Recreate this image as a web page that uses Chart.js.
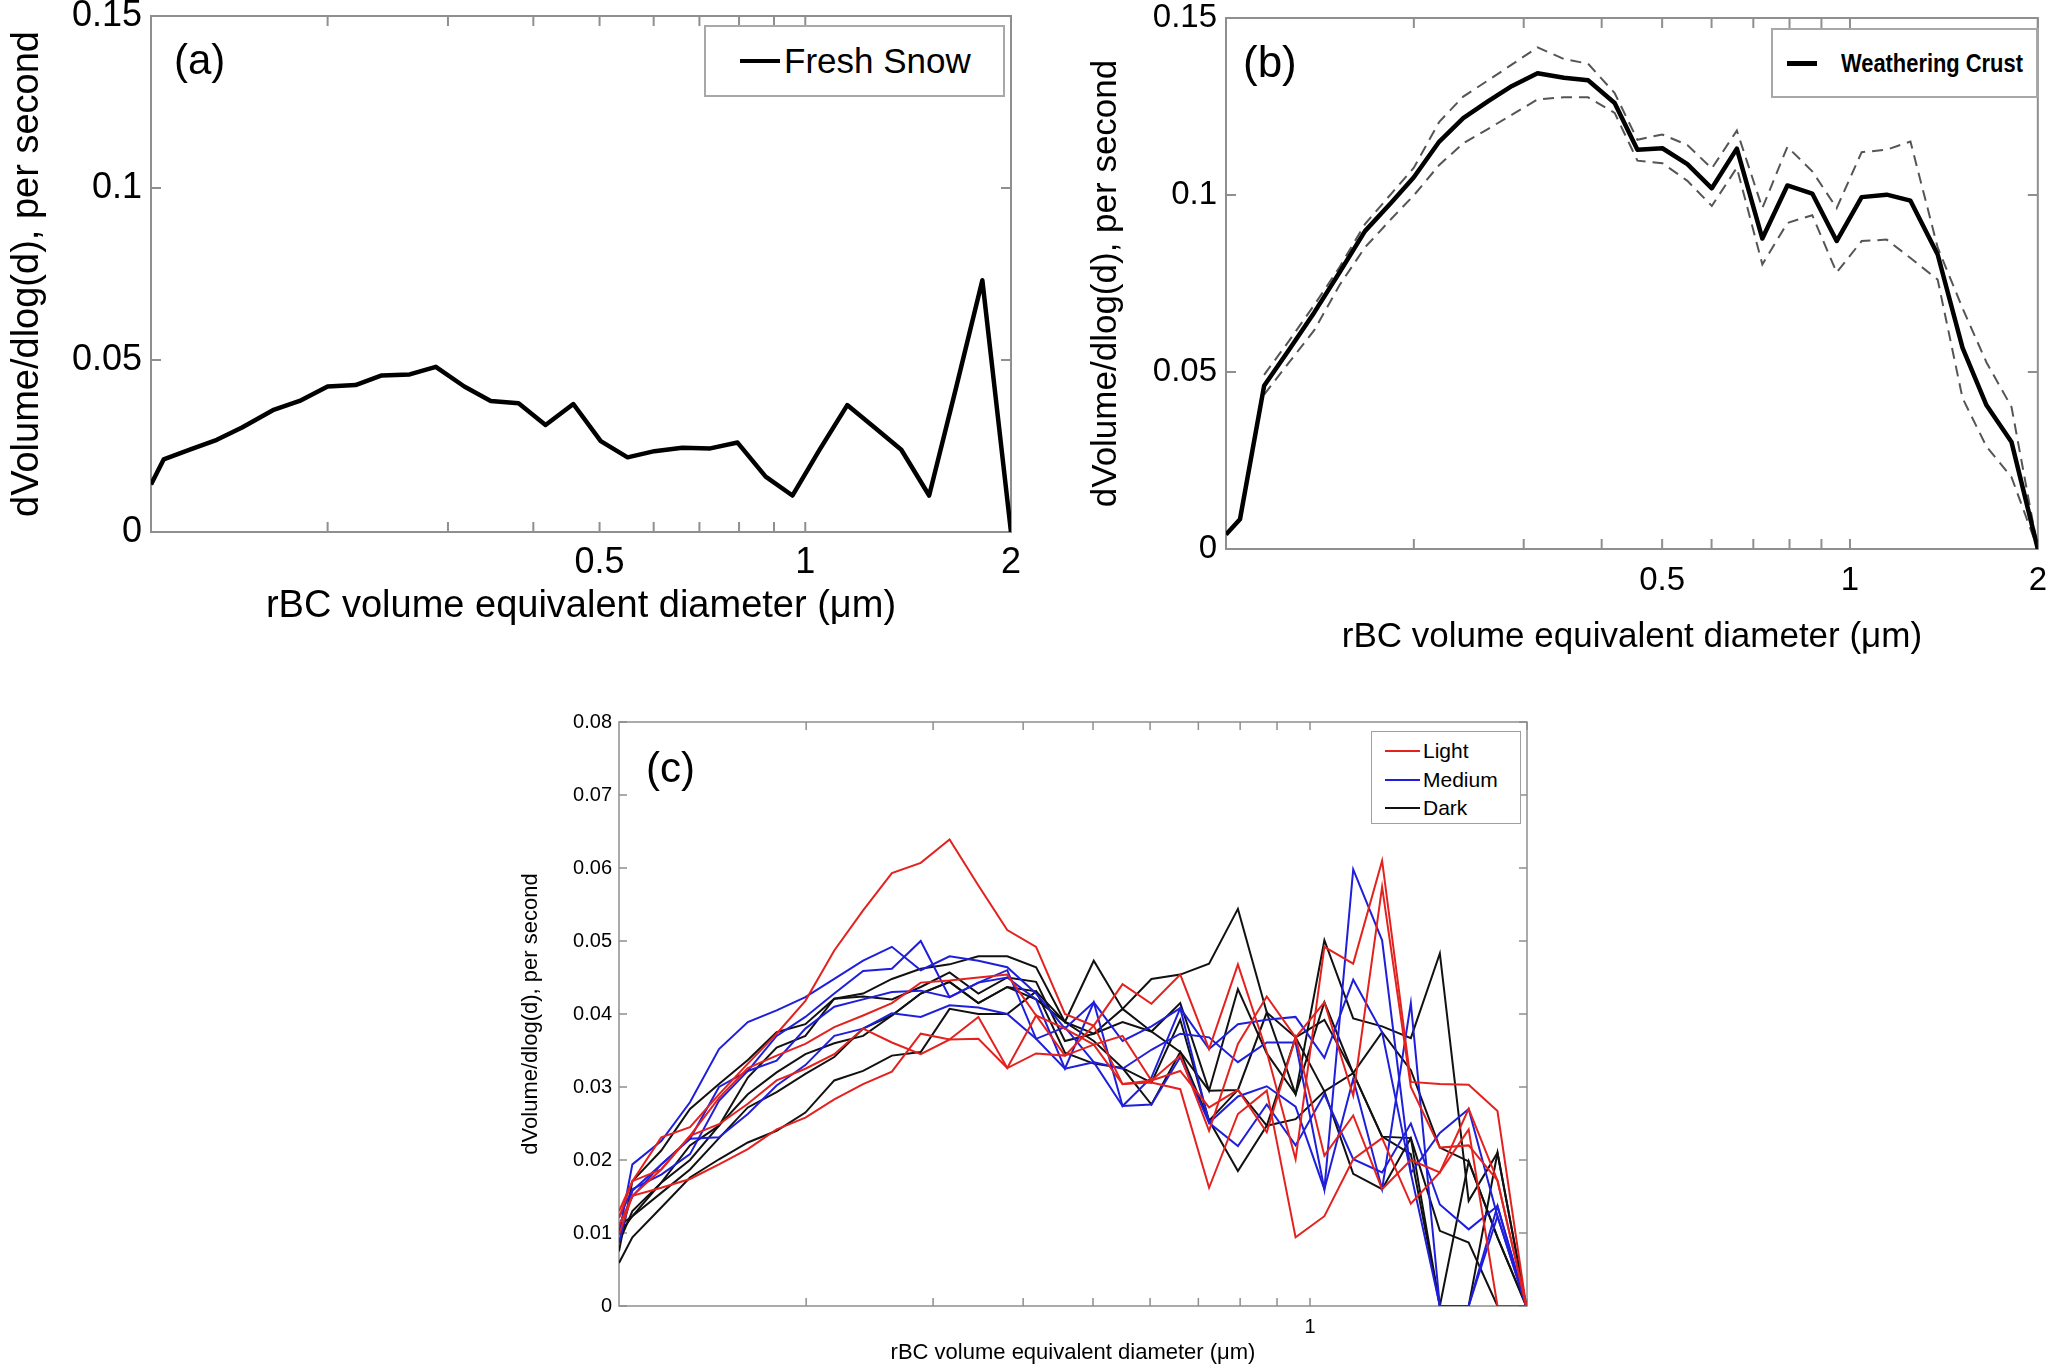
<!DOCTYPE html>
<html>
<head>
<meta charset="utf-8">
<title>rBC size distributions</title>
<script src="https://cdn.jsdelivr.net/npm/chart.js@4.4.1/dist/chart.umd.min.js"></script>
<style>
    html, body {
        margin: 0;
        padding: 0;
        background: #fff;
        width: 2059px;
        height: 1364px;
        overflow: hidden;
        position: relative;
        font-family: 'Liberation Sans', Arial, sans-serif;
        color: #000;
    }
    canvas { position: absolute; }
    .tag { position: absolute; line-height: 1; z-index: 2; }
    .legend { position: absolute; box-sizing: border-box; background: #fff; z-index: 2; }
    .legend .row { position: absolute; display: flex; align-items: center; white-space: nowrap; }
    .legend .swatch { display: inline-block; }
</style>
</head>
<body>
<canvas id="chartA"></canvas>
<canvas id="chartB"></canvas>
<canvas id="chartC"></canvas>

<div class="tag" style="left:174px; top:39px; font-size:42px;">(a)</div>
<div class="tag" style="left:1243px; top:40px; font-size:44px;">(b)</div>
<div class="tag" style="left:646px; top:747px; font-size:42px;">(c)</div>

<div class="legend" style="left:704px; top:25px; width:301px; height:72px; border:2px solid #a8a8a8;">
    <div class="row" style="left:34px; top:0; height:68px;">
        <span class="swatch" style="width:40px; height:4px; background:#000;"></span>
        <span style="font-size:35px; margin-left:4px;">Fresh Snow</span>
    </div>
</div>
<div class="legend" style="left:1771px; top:28px; width:267px; height:70px; border:2px solid #a8a8a8;">
    <div class="row" style="left:14px; top:0; height:66px;">
        <span class="swatch" style="width:30px; height:5px; background:#000;"></span>
        <span style="font-size:25px; font-weight:bold; margin-left:24px; display:inline-block; transform:scaleX(0.875); transform-origin:left center;">Weathering Crust</span>
    </div>
</div>
<div class="legend" id="legendC" style="left:1371px; top:731px; width:150px; height:93px; border:1.5px solid #a0a0a0;"></div>

<script>
// panel (a): fresh snow
const diamA = [0.1103, 0.1151, 0.126, 0.1377, 0.1499, 0.1663, 0.182, 0.2, 0.2197, 0.24, 0.2637,
    0.288, 0.317, 0.3465, 0.3806, 0.4168, 0.4577, 0.502, 0.5495, 0.6015, 0.6607, 0.7261, 0.796,
    0.875, 0.9576, 1.048, 1.152, 1.263, 1.382, 1.518, 1.662, 1.816, 2.0];
const freshSnow = [0.0138, 0.0211, 0.0240, 0.0268, 0.0304, 0.0354, 0.0381, 0.0423, 0.0427, 0.0455, 0.0458,
    0.0480, 0.0423, 0.0381, 0.0374, 0.0311, 0.0372, 0.0264, 0.0217, 0.0235, 0.0245, 0.0243, 0.0260,
    0.0161, 0.0106, 0.0237, 0.0369, 0.0304, 0.0239, 0.0106, 0.0419, 0.0732, 0];

// panel (b): weathering crust, mean and spread
const diamB = [0.1, 0.1053, 0.1151, 0.1262, 0.1386, 0.152, 0.167, 0.1841, 0.2, 0.2197, 0.24, 0.2632,
    0.2874, 0.3157, 0.348, 0.3804, 0.4196, 0.4564, 0.5004, 0.5488, 0.6006, 0.6587, 0.7237, 0.7937,
    0.870, 0.952, 1.044, 1.145, 1.25, 1.382, 1.515, 1.655, 1.815, 2.0];
const crustMean = [0.0041, 0.0084, 0.0461, 0.0563, 0.0669, 0.0781, 0.0898, 0.0979, 0.1050, 0.1151, 0.1217,
    0.1265, 0.1308, 0.1344, 0.1331, 0.1324, 0.1260, 0.1128, 0.1132, 0.1087, 0.1019, 0.1131, 0.0877,
    0.1027, 0.1004, 0.0870, 0.0994, 0.1001, 0.0984, 0.0832, 0.0568, 0.0406, 0.0302, 0];
const crustUpper = [null, null, 0.0492, 0.0588, 0.0690, 0.0796, 0.0918, 0.1004, 0.1077, 0.1207, 0.1278,
    0.1324, 0.1369, 0.1417, 0.1384, 0.1371, 0.1288, 0.1156, 0.1171, 0.1141, 0.1075, 0.1182, 0.0963,
    0.1136, 0.1067, 0.0963, 0.1121, 0.1128, 0.1151, 0.0852, 0.0680, 0.0527, 0.0401, 0];
const crustLower = [null, null, 0.0436, 0.0527, 0.0619, 0.0745, 0.0852, 0.0933, 0.0999, 0.1085, 0.1146,
    0.1187, 0.1227, 0.1270, 0.1276, 0.1276, 0.1232, 0.1097, 0.1090, 0.1040, 0.0969, 0.1077, 0.0804,
    0.0921, 0.0943, 0.0781, 0.0870, 0.0874, 0.0822, 0.0761, 0.0426, 0.0289, 0.0203, 0];

// panel (c): individual samples by darkness class
const diamC = [0.11, 0.1148, 0.1259, 0.138, 0.1514, 0.166, 0.182, 0.1995, 0.2188, 0.2399, 0.263,
    0.2884, 0.3162, 0.3467, 0.3802, 0.4169, 0.4571, 0.5012, 0.5495, 0.6026, 0.6607, 0.7244, 0.7943,
    0.871, 0.955, 1.047, 1.148, 1.259, 1.38, 1.514, 1.66, 1.82, 1.995];
const light1 = [0.0130, 0.0171, 0.0231, 0.0245, 0.0290, 0.0332, 0.0373, 0.0418, 0.0487, 0.0542, 0.0593,
    0.0607, 0.0639, 0.0576, 0.0515, 0.0492, 0.0400, 0.0384, 0.0441, 0.0414, 0.0454, 0.0352, 0.0468,
    0.0348, 0.0201, 0.0492, 0.0469, 0.0610, 0.0307, 0.0304, 0.0303, 0.0267, 0];
const light2 = [0.0121, 0.0171, 0.0187, 0.0233, 0.0285, 0.0326, 0.0343, 0.0359, 0.0382, 0.0398, 0.0415,
    0.0443, 0.0446, 0.0450, 0.0454, 0.0398, 0.0380, 0.0358, 0.0370, 0.0309, 0.0343, 0.0240, 0.0359,
    0.0424, 0.0368, 0.0416, 0.0288, 0.0574, 0.0300, 0.0217, 0.0220, 0.0172, 0];
const light3 = [0.0110, 0.0151, 0.0187, 0.0233, 0.0249, 0.0277, 0.0309, 0.0325, 0.0345, 0.0380, 0.0361,
    0.0345, 0.0365, 0.0366, 0.0326, 0.0346, 0.0343, 0.0384, 0.0304, 0.0306, 0.0297, 0.0162, 0.0263,
    0.0295, 0.0094, 0.0123, 0.0201, 0.0230, 0.0140, 0.0183, 0.0242, 0, 0];
const light4 = [0.0098, 0.0151, 0.0162, 0.0174, 0.0194, 0.0215, 0.0242, 0.0258, 0.0283, 0.0304, 0.0321,
    0.0373, 0.0365, 0.0396, 0.0326, 0.0398, 0.0343, 0.0358, 0.0304, 0.0309, 0.0322, 0.0272, 0.0296,
    0.0238, 0.0368, 0.0206, 0.0261, 0.0160, 0.0200, 0.0183, 0.0270, 0.0172, 0];
const medium1 = [0.0098, 0.0194, 0.0226, 0.0279, 0.0352, 0.0389, 0.0405, 0.0423, 0.0448, 0.0473, 0.0492,
    0.0460, 0.0479, 0.0473, 0.0464, 0.0428, 0.0380, 0.0416, 0.0363, 0.0383, 0.0408, 0.0352, 0.0386,
    0.0392, 0.0396, 0.0340, 0.0447, 0.0375, 0.0182, 0.0237, 0.0270, 0.0123, 0];
const medium2 = [0.0121, 0.0160, 0.0180, 0.0208, 0.0281, 0.0322, 0.0370, 0.0396, 0.0428, 0.0459, 0.0462,
    0.0500, 0.0423, 0.0443, 0.0460, 0.0366, 0.0382, 0.0334, 0.0325, 0.0351, 0.0373, 0.0368, 0.0334,
    0.0361, 0.0361, 0.0160, 0.0598, 0.0501, 0.0182, 0, 0, 0.0123, 0];
const medium3 = [0.0087, 0.0158, 0.0194, 0.0229, 0.0231, 0.0263, 0.0302, 0.0330, 0.0370, 0.0380, 0.0401,
    0.0396, 0.0412, 0.0409, 0.0400, 0.0366, 0.0325, 0.0334, 0.0274, 0.0276, 0.0341, 0.0251, 0.0219,
    0.0276, 0.0220, 0.0290, 0.0201, 0.0183, 0.0250, 0.0139, 0.0105, 0.0137, 0];
const medium4 = [0.0110, 0.0150, 0.0194, 0.0229, 0.0300, 0.0322, 0.0336, 0.0380, 0.0410, 0.0420, 0.0430,
    0.0432, 0.0423, 0.0443, 0.0450, 0.0420, 0.0325, 0.0416, 0.0274, 0.0313, 0.0408, 0.0251, 0.0287,
    0.0301, 0.0273, 0.0160, 0.0311, 0.0160, 0.0415, 0, 0, 0.0137, 0];
const dark1 = [0.0075, 0.0171, 0.0213, 0.0270, 0.0304, 0.0337, 0.0375, 0.0386, 0.0421, 0.0428, 0.0448,
    0.0462, 0.0468, 0.0479, 0.0479, 0.0464, 0.0389, 0.0473, 0.0407, 0.0448, 0.0454, 0.0469, 0.0544,
    0.0402, 0.0368, 0.0294, 0.0319, 0.0232, 0.0208, 0, 0.0198, 0.0094, 0];
const dark2 = [0.0087, 0.0130, 0.0169, 0.0220, 0.0247, 0.0313, 0.0354, 0.0370, 0.0421, 0.0424, 0.0420,
    0.0437, 0.0457, 0.0428, 0.0450, 0.0444, 0.0363, 0.0373, 0.0389, 0.0376, 0.0415, 0.0295, 0.0434,
    0.0346, 0.0290, 0.0501, 0.0394, 0.0383, 0.0367, 0.0483, 0.0144, 0.0210, 0];
const dark3 = [0.0059, 0.0094, 0.0135, 0.0176, 0.0201, 0.0224, 0.0240, 0.0265, 0.0309, 0.0322, 0.0343,
    0.0348, 0.0407, 0.0400, 0.0400, 0.0431, 0.0347, 0.0332, 0.0326, 0.0276, 0.0348, 0.0254, 0.0185,
    0.0247, 0.0256, 0.0294, 0.0181, 0.0160, 0.0230, 0.0103, 0.0087, 0, 0];
const dark4 = [0.0110, 0.0123, 0.0155, 0.0187, 0.0230, 0.0272, 0.0293, 0.0318, 0.0341, 0.0380, 0.0398,
    0.0428, 0.0444, 0.0415, 0.0437, 0.0420, 0.0389, 0.0363, 0.0326, 0.0306, 0.0392, 0.0254, 0.0296,
    0.0247, 0.0368, 0.0392, 0.0319, 0.0375, 0.0323, 0.0217, 0.0198, 0.0094, 0];
const dark5 = [0.0098, 0.0123, 0.0169, 0.0200, 0.0247, 0.0290, 0.0320, 0.0345, 0.0360, 0.0370, 0.0398,
    0.0428, 0.0444, 0.0415, 0.0437, 0.0431, 0.0389, 0.0373, 0.0407, 0.0376, 0.0348, 0.0295, 0.0296,
    0.0402, 0.0290, 0.0416, 0.0319, 0.0232, 0.0230, 0, 0, 0.0210, 0];

const xTickValues = [0.2, 0.3, 0.4, 0.5, 0.6, 0.7, 0.8, 0.9, 1, 2];
const xLabelsAB = ['0.5', '1', '2'];
const xLabelsC = ['1'];
const yTicksAB = [0, 0.05, 0.1, 0.15];
const yLabelsAB = ['0', '0.05', '0.1', '0.15'];
const yTicksC = [0, 0.01, 0.02, 0.03, 0.04, 0.05, 0.06, 0.07, 0.08];
const yLabelsC = ['0', '0.01', '0.02', '0.03', '0.04', '0.05', '0.06', '0.07', '0.08'];

const xTitle = 'rBC volume equivalent diameter (\u03bcm)';
const yTitle = 'dVolume/dlog(d), per second';
const fontFamily = "'Liberation Sans', Arial, sans-serif";
const colors = { light: '#e3221f', medium: '#1f1fdb', dark: '#111111' };

// axes box with inward ticks on all four sides, like the original plotting tool
const boxAxes = {
    id: 'boxAxes',
    beforeDatasetsDraw(chart, args, opts) {
        const { ctx, chartArea: area, scales } = chart;
        ctx.save();
        ctx.strokeStyle = opts.color;
        ctx.lineWidth = opts.width;
        ctx.beginPath();
        opts.xTicks.forEach((value) => {
            const px = scales.x.getPixelForValue(value);
            ctx.moveTo(px, area.bottom);
            ctx.lineTo(px, area.bottom - opts.length);
            ctx.moveTo(px, area.top);
            ctx.lineTo(px, area.top + opts.length);
        });
        opts.yTicks.forEach((value) => {
            const py = scales.y.getPixelForValue(value);
            ctx.moveTo(area.left, py);
            ctx.lineTo(area.left + opts.length, py);
            ctx.moveTo(area.right, py);
            ctx.lineTo(area.right - opts.length, py);
        });
        ctx.stroke();
        ctx.strokeRect(area.left, area.top, area.right - area.left, area.bottom - area.top);
        ctx.restore();
    },
};

function toPoints(xs, ys) {
    return xs.map((x, i) => ({ x, y: ys[i] }));
}

function placeCanvas(id, box) {
    const canvas = document.getElementById(id);
    canvas.width = box.width;
    canvas.height = box.height;
    canvas.style.left = `${box.left}px`;
    canvas.style.top = `${box.top}px`;
    canvas.style.width = `${box.width}px`;
    canvas.style.height = `${box.height}px`;
    return canvas;
}

function buildPanel(id, panel) {
    const canvas = placeCanvas(id, panel.box);
    return new Chart(canvas.getContext('2d'), {
        type: 'line',
        data: { datasets: panel.datasets },
        plugins: [boxAxes],
        options: {
            responsive: false,
            animation: false,
            devicePixelRatio: 1,
            layout: { padding: panel.padding },
            elements: { point: { radius: 0 }, line: { tension: 0 } },
            plugins: {
                legend: { display: false },
                tooltip: { enabled: false },
                boxAxes: {
                    color: panel.axisColor,
                    width: panel.axisWidth,
                    length: panel.tickLength,
                    xTicks: xTickValues,
                    yTicks: panel.yTicks,
                },
            },
            scales: {
                x: {
                    type: 'logarithmic',
                    min: panel.xMin,
                    max: panel.xMax,
                    grid: { display: false, drawTicks: false },
                    border: { display: false },
                    afterBuildTicks: (scale) => {
                        scale.ticks = xTickValues.map((value) => ({ value }));
                    },
                    afterFit: (scale) => {
                        scale.height = panel.xHeight;
                    },
                    ticks: {
                        autoSkip: false,
                        maxRotation: 0,
                        padding: panel.xTickPadding,
                        color: '#000',
                        font: { family: fontFamily, size: panel.tickFont },
                        callback: (value) => {
                            const label = String(value);
                            return panel.xLabels.includes(label) ? label : '';
                        },
                    },
                    title: {
                        display: true,
                        text: xTitle,
                        color: '#000',
                        font: { family: fontFamily, size: panel.titleFont },
                        padding: { top: 0, bottom: panel.xTitlePadding },
                    },
                },
                y: {
                    type: 'linear',
                    min: 0,
                    max: panel.yMax,
                    grid: { display: false, drawTicks: false },
                    border: { display: false },
                    afterBuildTicks: (scale) => {
                        scale.ticks = panel.yTicks.map((value) => ({ value }));
                    },
                    afterFit: (scale) => {
                        scale.width = panel.yWidth;
                    },
                    ticks: {
                        padding: panel.yTickPadding,
                        color: '#000',
                        font: { family: fontFamily, size: panel.tickFont },
                        callback: (value, index) => panel.yLabels[index],
                    },
                    title: {
                        display: true,
                        text: yTitle,
                        color: '#000',
                        font: { family: fontFamily, size: panel.titleFont },
                        padding: { top: panel.yTitlePadding, bottom: 0 },
                    },
                },
            },
        },
    });
}

const thinLine = (data, color) => ({
    data,
    borderColor: color,
    borderWidth: 2,
    fill: false,
});

const samplesC = [
    ...[light1, light2, light3, light4].map((s) => ({ series: s, group: 'light' })),
    ...[medium1, medium2, medium3, medium4].map((s) => ({ series: s, group: 'medium' })),
    ...[dark1, dark2, dark3, dark4, dark5].map((s) => ({ series: s, group: 'dark' })),
];

buildPanel('chartA', {
    box: { left: 0, top: -24, width: 1030, height: 684 },
    padding: { top: 40, right: 17, left: 0, bottom: 0 },
    yWidth: 151, xHeight: 128,
    xMin: 0.1103, xMax: 2, yMax: 0.15,
    yTicks: yTicksAB, yLabels: yLabelsAB, xLabels: xLabelsAB,
    tickFont: 36, titleFont: 38,
    xTickPadding: 9, xTitlePadding: 31, yTickPadding: 9, yTitlePadding: 5,
    axisColor: '#8f8f8f', axisWidth: 2, tickLength: 10,
    datasets: [{
        label: 'Fresh Snow',
        data: toPoints(diamA, freshSnow),
        borderColor: '#000',
        borderWidth: 4.5,
        borderJoinStyle: 'round',
        fill: false,
    }],
});

buildPanel('chartB', {
    box: { left: 1030, top: -22, width: 1029, height: 692 },
    padding: { top: 40, right: 19, left: 0, bottom: 0 },
    yWidth: 196, xHeight: 121,
    xMin: 0.1, xMax: 2, yMax: 0.15,
    yTicks: yTicksAB, yLabels: yLabelsAB, xLabels: xLabelsAB,
    tickFont: 33, titleFont: 35,
    xTickPadding: 12, xTitlePadding: 12, yTickPadding: 9, yTitlePadding: 55,
    axisColor: '#8f8f8f', axisWidth: 2, tickLength: 10,
    datasets: [
        {
            label: 'Weathering Crust',
            data: toPoints(diamB, crustMean),
            borderColor: '#000',
            borderWidth: 4.5,
            borderJoinStyle: 'round',
            fill: false,
        },
        {
            label: 'upper',
            data: toPoints(diamB, crustUpper),
            borderColor: '#555',
            borderWidth: 2,
            borderDash: [11, 7],
            fill: false,
        },
        {
            label: 'lower',
            data: toPoints(diamB, crustLower),
            borderColor: '#555',
            borderWidth: 2,
            borderDash: [11, 7],
            fill: false,
        },
    ],
});

buildPanel('chartC', {
    box: { left: 480, top: 682, width: 1079, height: 698 },
    padding: { top: 40, right: 32, left: 0, bottom: 0 },
    yWidth: 139, xHeight: 74,
    xMin: 0.11, xMax: 2, yMax: 0.08,
    yTicks: yTicksC, yLabels: yLabelsC, xLabels: xLabelsC,
    tickFont: 20, titleFont: 22,
    xTickPadding: 9, xTitlePadding: 14, yTickPadding: 7, yTitlePadding: 38,
    axisColor: '#8f8f8f', axisWidth: 1.5, tickLength: 8,
    datasets: samplesC.map((item) => thinLine(toPoints(diamC, item.series), colors[item.group])),
});

// legend for (c): one entry per darkness class
const legendC = document.getElementById('legendC');
[['Light', colors.light], ['Medium', colors.medium], ['Dark', colors.dark]].forEach(([name, color], i) => {
    const row = document.createElement('div');
    row.className = 'row';
    row.style.left = '13px';
    row.style.top = `${6 + i * 28.7}px`;
    row.style.height = '26px';
    row.innerHTML = `<span class="swatch" style="width:35px;height:2px;background:${color}"></span>`
        + `<span style="font-size:21px;margin-left:3px">${name}</span>`;
    legendC.appendChild(row);
});
</script>
</body>
</html>
